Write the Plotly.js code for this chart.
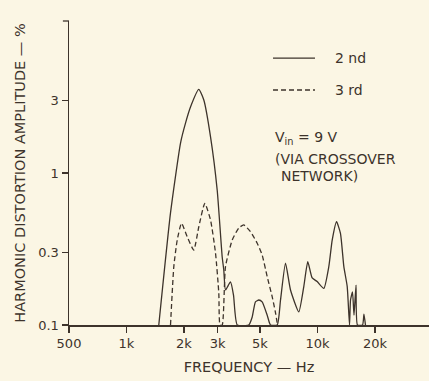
<!DOCTYPE html>
<html>
<head>
<meta charset="utf-8">
<script src="https://cdn.plot.ly/plotly-3.0.1.min.js"></script>
<style>html,body{margin:0;padding:0;background:#fbf6e4;}#chart{width:429px;height:381px;}</style>
</head>
<body>
<div id="chart"></div>
<script>
// 2nd harmonic (solid)
const freq2nd = [1476, 1700, 1918, 2037, 2163, 2391, 2540, 2754, 2985, 3170, 3231, 3298, 3504, 3633, 3800,
  4367, 4552, 4733, 4929, 5131, 5454, 5675,
  6152, 6403, 6800, 7222, 7982, 8477, 8895, 9379, 9963, 10790, 11460, 11940, 12580, 13190, 13740, 14310, 14710,
  14890, 15250, 15530, 15910, 16190, 17210, 17510, 17830];
const amp2nd = [0.1, 0.546, 1.575, 2.13, 2.72, 3.55, 3.02, 1.73, 0.77, 0.28, 0.23, 0.17, 0.192, 0.157, 0.1,
  0.1, 0.113, 0.142, 0.146, 0.142, 0.116, 0.1,
  0.1, 0.146, 0.255, 0.17, 0.122, 0.179, 0.261, 0.204, 0.193, 0.174, 0.242, 0.362, 0.478, 0.401, 0.242, 0.179, 0.1,
  0.146, 0.165, 0.116, 0.183, 0.1, 0.1, 0.118, 0.1];
// 3rd harmonic (dashed)
const freq3rd = [1700, 1769, 1843, 1941, 2078, 2250, 2391, 2570, 2754, 2924, 3043, 3088,
  3170, 3298, 3576, 3873, 4112, 4459, 4834, 5131, 5454, 5791, 6029, 6173];
const amp3rd = [0.1, 0.242, 0.362, 0.467, 0.381, 0.311, 0.443, 0.632, 0.491, 0.298, 0.162, 0.1,
  0.1, 0.242, 0.362, 0.435, 0.455, 0.411, 0.345, 0.289, 0.208, 0.1535, 0.12, 0.1];
const xTickVals = [500, 1000, 2000, 3000, 5000, 10000, 20000];
const xTickText = ["500", "1k", "2k", "3k", "5k", "10k", "20k"];
const yTickVals = [0.1, 0.3, 1, 3];
const yTickText = ["0.1", "0.3", "1", "3"];
const seriesNames = ["2 nd", "3 rd"];

const ink = "#3d332b";
const bg = "#fbf6e4";
const fam = "DejaVu Sans, Liberation Sans, sans-serif";
const font = {family: fam, size: 14, color: ink};

const traces = [
  {x: freq2nd, y: amp2nd, type: "scatter", mode: "lines", name: seriesNames[0],
   line: {color: ink, width: 1.3, shape: "spline", smoothing: 0.5}, hoverinfo: "skip"},
  {x: freq3rd, y: amp3rd, type: "scatter", mode: "lines", name: seriesNames[1],
   line: {color: ink, width: 1.3, dash: "5px,3px", shape: "spline", smoothing: 0.5}, hoverinfo: "skip"}
];

const layout = {
  width: 429, height: 381,
  margin: {l: 69, r: 0, t: 21, b: 56, pad: 0},
  paper_bgcolor: bg, plot_bgcolor: bg,
  showlegend: false,
  font: font,
  xaxis: {
    type: "log", range: [Math.log10(500), Math.log10(500) + 360/191],
    tickvals: xTickVals, ticktext: xTickText,
    ticks: "outside", ticklen: 6, tickwidth: 1.3, tickcolor: ink,
    showline: true, linecolor: ink, linewidth: 1.5,
    showgrid: false, zeroline: false,
    tickfont: {family: fam, size: 13, color: ink},
    title: {text: "FREQUENCY — Hz", font: {family: fam, size: 14.5, color: ink}, standoff: 12}
  },
  yaxis: {
    type: "log", range: [-1, 1],
    tickvals: yTickVals, ticktext: yTickText,
    ticks: "outside", ticklen: 6, tickwidth: 1.3, tickcolor: ink,
    showline: true, linecolor: ink, linewidth: 1.5,
    showgrid: false, zeroline: false,
    tickfont: {family: fam, size: 13, color: ink},
    title: {text: "HARMONIC DISTORTION AMPLITUDE — %", font: {family: fam, size: 14.5, color: ink}, standoff: 9}
  },
  shapes: [
    {type: "line", xref: "paper", yref: "paper", x0: -0.017, x1: 0, y0: 1, y1: 1,
     line: {color: ink, width: 1.3}},
    {type: "line", xref: "paper", yref: "paper", x0: 0.5667, x1: 0.6833, y0: 0.878, y1: 0.878,
     line: {color: ink, width: 1.3}},
    {type: "line", xref: "paper", yref: "paper", x0: 0.5667, x1: 0.6833, y0: 0.773, y1: 0.773,
     line: {color: ink, width: 1.3, dash: "5px,3px"}}
  ],
  annotations: [
    {xref: "paper", yref: "paper", x: 0.733, y: 0.878, xanchor: "left", yanchor: "middle", text: seriesNames[0], showarrow: false, font: font},
    {xref: "paper", yref: "paper", x: 0.733, y: 0.773, xanchor: "left", yanchor: "middle", text: seriesNames[1], showarrow: false, font: font},
    {xref: "paper", yref: "paper", x: 0.567, y: 0.615, xanchor: "left", yanchor: "middle", text: "V<sub>in</sub> = 9 V", showarrow: false, font: font},
    {xref: "paper", yref: "paper", x: 0.567, y: 0.546, xanchor: "left", yanchor: "middle", text: "(VIA CROSSOVER", showarrow: false, font: font},
    {xref: "paper", yref: "paper", x: 0.583, y: 0.490, xanchor: "left", yanchor: "middle", text: "NETWORK)", showarrow: false, font: font}
  ]
};

Plotly.newPlot("chart", traces, layout, {staticPlot: true, displayModeBar: false});
</script>
</body>
</html>
